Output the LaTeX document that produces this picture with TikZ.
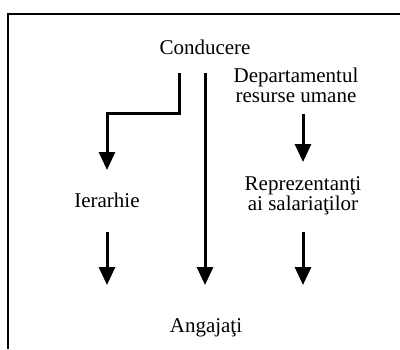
\documentclass[tikz,border=0pt]{standalone}
\usepackage{fontspec}
\setmainfont{Liberation Serif}
\usetikzlibrary{arrows.meta}
\begin{document}
\begin{tikzpicture}[x=1pt, y=-1pt,
  frame/.style={line width=2pt},
  link/.style={line width=3pt, -{Triangle[width=16pt,length=18pt]}},
  label/.style={anchor=base, inner sep=0pt, align=center,
    font=\fontsize{21}{20}\selectfont}]
\useasboundingbox (0,0) rectangle (400,349);

% open frame: top and left edges only
\draw[frame] (400,14) -- (8,14) -- (8,349);

% labels (base anchor sits on the last line's baseline)
\node[label] (cond) at (205,54) {Conducere};
\node[label] (dep)  at (296,102) {Departamentul\\resurse umane};
\node[label] (ier)  at (107,207) {Ierarhie};
\node[label] (rep)  at (303,210) {Reprezentanţi\\ai salariaţilor};
\node[label] (ang)  at (206,332) {Angajaţi};

% connector end points
\coordinate (condL) at (179,73);
\coordinate (condM) at (205,73);
\coordinate (ierIn) at (107,170);
\coordinate (ierOut) at (107,232);
\coordinate (depOut) at (303,114);
\coordinate (repIn) at (303,162);
\coordinate (repOut) at (303,232);
\coordinate (angL) at (107,285);
\coordinate (angM) at (205,285);
\coordinate (angR) at (303,285);

% connectors
\draw[link] (condL) -- (179,113.5) -| (ierIn);
\draw[link] (condM) -- (angM);
\draw[link] (depOut) -- (repIn);
\draw[link] (ierOut) -- (angL);
\draw[link] (repOut) -- (angR);
\end{tikzpicture}
\end{document}
